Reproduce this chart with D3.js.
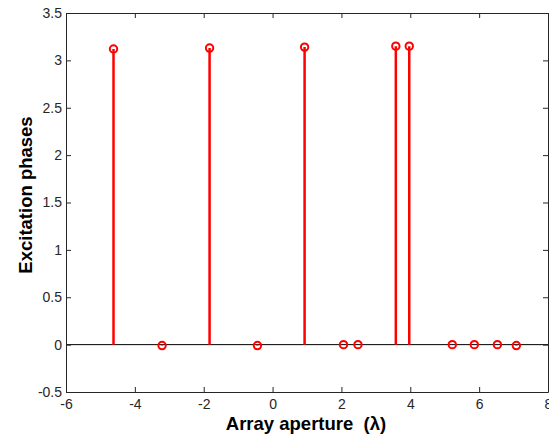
<!DOCTYPE html>
<html>
<head>
<meta charset="utf-8">
<script src="https://cdn.jsdelivr.net/npm/d3@7"></script>
<style>
html,body{margin:0;padding:0;background:#fff;}
svg{display:block;font-family:"Liberation Sans",Arial,sans-serif;}
</style>
</head>
<body>
<svg id="chart" width="549" height="438"></svg>
<script>
// Data
const positions = [-4.62, -3.21, -1.83, -0.44, 0.93, 2.06, 2.48, 3.58, 3.97, 5.22, 5.86, 6.53, 7.08];
const phases    = [3.12, -0.01, 3.13, -0.01, 3.14, 0.0, 0.0, 3.15, 3.15, 0.0, 0.0, 0.0, -0.01];
const xTicks = [-6, -4, -2, 0, 2, 4, 6, 8];
const yTicks = [-0.5, 0, 0.5, 1, 1.5, 2, 2.5, 3, 3.5];
const xLabel = "Array aperture  (λ)";
const yLabel = "Excitation phases";

const svg = d3.select("#chart");
const L = 66, R = 548, T = 13, B = 392;
const x = d3.scaleLinear().domain([-6, 8]).range([L, R]);
const y = d3.scaleLinear().domain([-0.5, 3.5]).range([B, T]);

const axisColor = "#262626";
const tickLen = 5;
const fmt = d => String(d); // plain hyphen-minus like the reference

// Baseline at y = 0
svg.append("line")
  .attr("x1", L).attr("x2", R)
  .attr("y1", y(0)).attr("y2", y(0))
  .attr("stroke", "#000").attr("stroke-width", 1);

const pts = positions.map((p, i) => [p, phases[i]]);

// Stems
svg.append("g").selectAll("line").data(pts)
  .join("line")
  .attr("x1", d => x(d[0])).attr("x2", d => x(d[0]))
  .attr("y1", y(0)).attr("y2", d => y(d[1]))
  .attr("stroke", "#ff0000").attr("stroke-width", 2.5);

// Markers
svg.append("g").selectAll("circle").data(pts)
  .join("circle")
  .attr("cx", d => x(d[0])).attr("cy", d => y(d[1]))
  .attr("r", 3.7)
  .attr("fill", "none")
  .attr("stroke", "#ff0000").attr("stroke-width", 2);

// Axes
const xAxisB = d3.axisBottom(x).tickValues(xTicks).tickSizeInner(-tickLen).tickSizeOuter(0).tickPadding(7).tickFormat(fmt);
const xAxisT = d3.axisTop(x).tickValues(xTicks).tickSizeInner(-tickLen).tickSizeOuter(0).tickFormat("");
const yAxisL = d3.axisLeft(y).tickValues(yTicks).tickSizeInner(-tickLen).tickSizeOuter(0).tickPadding(4).tickFormat(fmt);
const yAxisR = d3.axisRight(y).tickValues(yTicks).tickSizeInner(-tickLen).tickSizeOuter(0).tickFormat("");

function style(g) {
  g.select(".domain").attr("stroke", axisColor).attr("stroke-width", 1);
  g.selectAll(".tick line").attr("stroke", axisColor);
  g.selectAll(".tick text").attr("fill", axisColor).attr("font-size", 14)
    .attr("font-family", "Liberation Sans, Arial, sans-serif");
}
svg.append("g").attr("transform", `translate(0,${B})`).call(xAxisB).call(style);
svg.append("g").attr("transform", `translate(0,${T})`).call(xAxisT).call(style);
svg.append("g").attr("transform", `translate(${L},0)`).call(yAxisL).call(style);
svg.append("g").attr("transform", `translate(${R},0)`).call(yAxisR).call(style);

// Axis labels
svg.append("text")
  .attr("x", 306).attr("y", 430)
  .attr("text-anchor", "middle")
  .style("white-space", "pre")
  .attr("font-weight", "bold").attr("font-size", 18.5).attr("fill", "#000")
  .text(xLabel);
svg.append("text")
  .attr("transform", `translate(32,195) rotate(-90)`)
  .attr("text-anchor", "middle")
  .attr("font-weight", "bold").attr("font-size", 18.5).attr("fill", "#000")
  .text(yLabel);
</script>
</body>
</html>
